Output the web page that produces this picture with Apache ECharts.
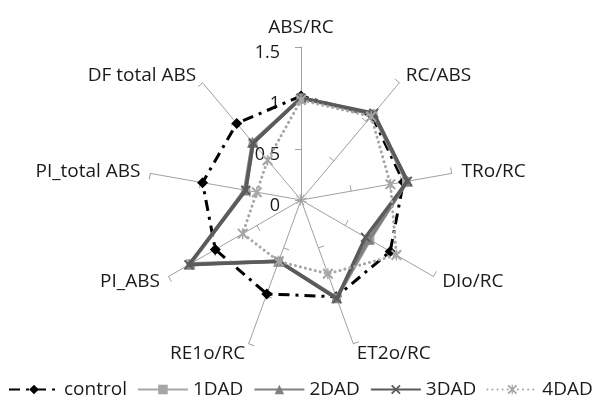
<!DOCTYPE html>
<html>
<head>
<meta charset="utf-8">
<script src="https://cdn.jsdelivr.net/npm/echarts@6/dist/echarts.min.js"></script>
<style>
html, body { margin: 0; padding: 0; background: #fff; }
#chart { width: 600px; height: 401px; }
</style>
</head>
<body>
<div id="chart"></div>
<script>
// Parameters, listed clockwise from the top axis
const indicators = ['ABS/RC', 'RC/ABS', 'TRo/RC', 'DIo/RC', 'ET2o/RC', 'RE1o/RC', 'PI_ABS', 'PI_total ABS', 'DF total ABS'];
const axisMin = 0;
const axisMax = 1.5;
const tickLabels = ['0', '0.5', '1', '1.5'];

// Relative values of each treatment (same order as indicators)
const control = [1.02, 1.08, 1.02, 1.01, 1.01, 0.98, 0.97, 0.98, 0.98];
const dad1    = [1.00, 1.10, 1.05, 0.78, 1.02, 0.64, 1.25, 0.55, 0.73];
const dad2    = [1.00, 1.10, 1.06, 0.77, 1.02, 0.64, 1.26, 0.56, 0.74];
const dad3    = [1.00, 1.11, 1.06, 0.73, 1.03, 0.64, 1.27, 0.55, 0.73];
const dad4    = [0.98, 1.07, 0.89, 1.08, 0.77, 0.64, 0.66, 0.44, 0.51];
const seriesNames = ['control', '1DAD', '2DAD', '3DAD', '4DAD'];
const seriesValues = [control, dad1, dad2, dad3, dad4];

const FONT = 'Open Sans';
const TEXT = '#1a1a1a';

// ECharts lays radar axes out counter-clockwise; reverse all but the first
// so the parameters run clockwise.
const n = indicators.length;
const order = indicators.map((_, i) => (i === 0 ? 0 : n - i));
const reorder = arr => order.map(i => arr[i]);

const xPath = 'path://M0,1.3L1.3,0L5,3.7L8.7,0L10,1.3L6.3,5L10,8.7L8.7,10L5,6.3L1.3,10L0,8.7L3.7,5Z';
const starPath = 'path://M0,1.3L1.3,0L5,3.7L8.7,0L10,1.3L6.3,5L10,8.7L8.7,10L5,6.3L1.3,10L0,8.7L3.7,5Z M4.35,0L5.65,0L5.65,10L4.35,10Z';

const styles = [
  { color: '#000000', width: 3, type: [11, 6, 3, 6], symbol: 'diamond', size: 11 },
  { color: '#a6a6a6', width: 3.5, type: 'solid', symbol: 'rect', size: 9 },
  { color: '#808080', width: 3.5, type: 'solid', symbol: 'triangle', size: 11 },
  { color: '#5a5a5a', width: 3.5, type: 'solid', symbol: xPath, size: 10 },
  { color: '#a6a6a6', width: 3, type: [0.1, 5], symbol: starPath, size: 11, cap: 'round' }
];

const indicatorOpts = reorder(indicators).map((name, i) => {
  const o = { name: name, min: axisMin, max: axisMax };
  if (i === 0) {
    o.axisLabel = {
      show: true, color: TEXT, fontSize: 18, fontFamily: FONT,
      margin: 21, verticalAlign: 'top', lineHeight: 12,
      formatter: v => tickLabels[Math.round((v - axisMin) / 0.5)] ?? ''
    };
  }
  return o;
});

// Line series (empty) supply the line + marker legend icons
const legendSeries = seriesNames.map((name, k) => ({
  type: 'line', name: name, data: [], xAxisIndex: 0, yAxisIndex: 0,
  symbol: styles[k].symbol, symbolSize: styles[k].size,
  itemStyle: { color: styles[k].color },
  lineStyle: { color: styles[k].color, width: styles[k].width, type: styles[k].type, cap: styles[k].cap || 'butt' }
}));

const radarSeries = seriesNames.map((name, k) => ({
  type: 'radar', name: name, radarIndex: 0, z: 2 + k,
  symbol: styles[k].symbol, symbolSize: styles[k].size,
  itemStyle: { color: styles[k].color },
  lineStyle: { color: styles[k].color, width: styles[k].width, type: styles[k].type, cap: styles[k].cap || 'butt' },
  data: [{ name: name, value: reorder(seriesValues[k]) }]
}));

const chart = echarts.init(document.getElementById('chart'), null, { renderer: 'canvas' });
chart.setOption({
  animation: false,
  backgroundColor: '#ffffff',
  grid: { show: false, left: 0, top: 0, width: 1, height: 1 },
  xAxis: { type: 'category', show: false },
  yAxis: { type: 'value', show: false },
  legend: {
    data: seriesNames,
    left: 8, bottom: 2, width: 600, padding: 0,
    itemWidth: 50, itemHeight: 12, itemGap: 10,
    textStyle: { color: TEXT, fontSize: 19, fontFamily: FONT },
    selectedMode: false
  },
  radar: {
    center: [301, 200],
    radius: 153,
    startAngle: 90,
    splitNumber: 3,
    shape: 'polygon',
    indicator: indicatorOpts,
    nameGap: 10,
    axisName: { color: TEXT, fontSize: 19, fontFamily: FONT },
    axisLine: { lineStyle: { color: '#a0a0a0', width: 1 } },
    axisTick: { show: true, length: 6, lineStyle: { color: '#a0a0a0', width: 1 } },
    axisLabel: { show: false },
    splitLine: { show: false },
    splitArea: { show: false }
  },
  series: legendSeries.concat(radarSeries)
});
</script>
</body>
</html>
